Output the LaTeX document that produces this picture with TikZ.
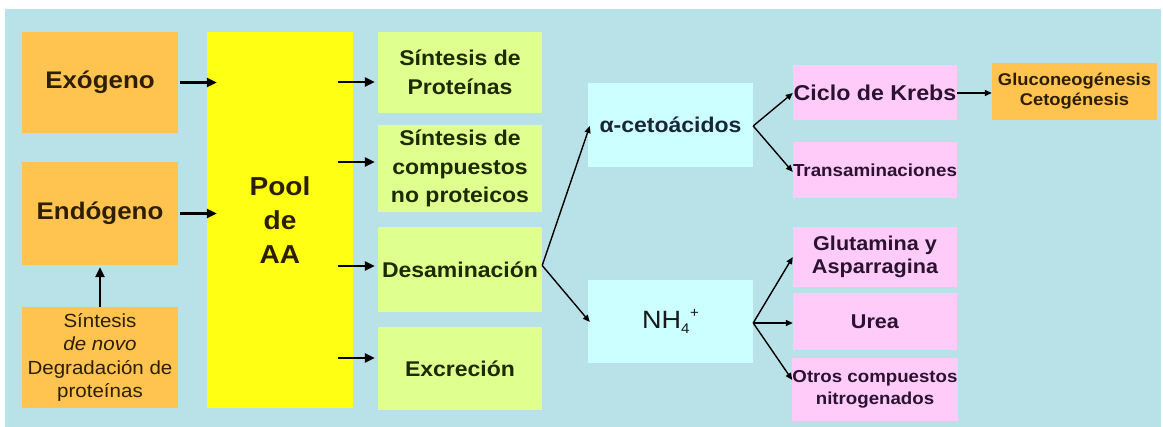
\documentclass[tikz,border=0pt]{standalone}
\usepackage{fontspec}
\setmainfont{Liberation Sans}[FakeStretch=1.08]
\usetikzlibrary{arrows.meta,calc}
\definecolor{bgc}{HTML}{B9E2E8}
\definecolor{orangec}{HTML}{FFC350}
\definecolor{yellowc}{HTML}{FFFF14}
\definecolor{greenc}{HTML}{DFFF8E}
\definecolor{cyanc}{HTML}{CCFFFF}
\definecolor{pinkc}{HTML}{FFCCFA}
\definecolor{brownt}{HTML}{2E1E00}
\definecolor{greent}{HTML}{1C2A00}
\definecolor{navyt}{HTML}{1A2638}
\definecolor{purplet}{HTML}{2A1230}
\newcommand{\fsz}[2]{\fontsize{#1}{#2}\selectfont}
\begin{document}
\begin{tikzpicture}[x=1pt,y=-1pt,
  box/.style={inner sep=0pt, align=center},
  obox/.style={box, fill=orangec, text=brownt},
  gbox/.style={box, fill=greenc, text=greent, minimum width=164, font=\fsz{21.3}{28.5}\bfseries},
  cbox/.style={box, fill=cyanc, minimum width=165},
  pbox/.style={box, fill=pinkc, text=purplet, minimum width=164},
  parrow/.style={line width=2.4pt, -{Triangle[length=10pt,width=9pt]}},
  sarrow/.style={line width=1.4pt, -{Triangle[length=7pt,width=6pt]}}]
\useasboundingbox (0,0) rectangle (1163,427);
\fill[white] (0,0) rectangle (1163,427);
\fill[bgc] (5,9) rectangle (1161,427);

% left column
\node[obox, minimum width=156, minimum height=101, font=\fsz{24}{28}\bfseries] (exo) at (100,82.5) {Exógeno};
\node[obox, minimum width=156, minimum height=103, font=\fsz{24}{28}\bfseries] (endo) at (100,213.5) {Endógeno};
\node[obox, minimum width=156, minimum height=101, font=\fsz{19}{23.5}] (novo) at (100,357.5) {Síntesis\\\textit{de novo}\\Degradación de\\proteínas};

% pool
\node[box, fill=yellowc, text=brownt, minimum width=146, minimum height=376, font=\fsz{26}{34}\bfseries] (pool) at (280,220) {Pool\\de\\AA};

% green column
\node[gbox, minimum height=81] (g1) at (460,72.5) {Síntesis de\\Proteínas};
\node[gbox, minimum height=87] (g2) at (460,168.5) {Síntesis de\\compuestos\\no proteicos};
\node[gbox, minimum height=85] (g3) at (460,269.5) {Desaminación};
\node[gbox, minimum height=83] (g4) at (460,368.5) {Excreción};

% cyan boxes
\node[cbox, minimum height=84, text=navyt, font=\fsz{21.3}{24}\bfseries] (ceto) at (670.5,125) {α-cetoácidos};
\node[cbox, minimum height=83, text=black!90, font=\fsz{25}{28}] (nh4) at (670.5,321.5) {NH\raisebox{-0.2em}{\fsz{14}{14}4}\kern0.5pt\raisebox{0.42em}{\fsz{14}{14}+}};

% pink boxes
\node[pbox, minimum height=55, font=\fsz{21.5}{24}\bfseries] (krebs) at (875,92.5) {Ciclo de Krebs};
\node[pbox, minimum height=56, font=\fsz{17.4}{20}\bfseries] (trans) at (875,170) {Transaminaciones};
\node[pbox, minimum height=60, font=\fsz{20}{23.5}\bfseries] (glut) at (875,257) {Glutamina y\\Asparragina};
\node[pbox, minimum height=57, font=\fsz{20}{23}\bfseries] (urea) at (875,321.5) {Urea};
\node[pbox, minimum height=63, font=\fsz{17.3}{22}\bfseries] (otros) at (875,389.5) {Otros compuestos\\nitrogenados};

% gluco
\node[obox, minimum width=165, minimum height=57, font=\fsz{17}{20}\bfseries] (gluco) at (1074.5,91.5) {Gluconeogénesis\\Cetogénesis};

% arrows left
\draw[parrow] ($(exo.east)+(2,0)$) -- ($(pool.west|-exo.east)+(10,0)$);
\draw[parrow] ($(endo.east)+(2,0)$) -- ($(pool.west|-endo.east)+(10,0)$);
\draw[parrow] (novo.north) -- ($(endo.south)+(0,2)$);

% pool to green
\draw[parrow] ($(pool.east|-g1.west)+(-15,9.5)$) -- ($(g1.west)+(-3,9.5)$);
\draw[parrow] ($(pool.east|-g2.west)+(-15,-6.5)$) -- ($(g2.west)+(-3,-6.5)$);
\draw[parrow] ($(pool.east|-g3.west)+(-15,-3.5)$) -- ($(g3.west)+(-3,-3.5)$);
\draw[parrow] ($(pool.east|-g4.west)+(-15,-10.5)$) -- ($(g4.west)+(-3,-10.5)$);

% desaminacion fork
\coordinate (dfork) at ($(g3.east)+(0,-4)$);
\draw[sarrow] (dfork) -- ($(ceto.west)+(2,1)$);
\draw[sarrow] (dfork) -- ($(nh4.west)+(2,0.5)$);

% ceto fork
\coordinate (cfork) at ($(ceto.east)+(0,1)$);
\draw[sarrow] (cfork) -- ($(krebs.west)+(0,0.5)$);
\draw[sarrow] (cfork) -- ($(trans.west)+(0,2)$);

% nh4 fork
\coordinate (nfork) at ($(nh4.east)+(0,1.5)$);
\draw[sarrow] (nfork) -- (glut.west);
\draw[sarrow] (nfork) -- ($(urea.west)+(0,1.5)$);
\draw[sarrow] (nfork) -- ($(otros.west)+(0,-9.5)$);

% krebs to gluco
\draw[sarrow] ($(krebs.east)+(0,0.5)$) -- ($(gluco.west|-krebs.east)+(0,0.5)$);
\end{tikzpicture}
\end{document}
